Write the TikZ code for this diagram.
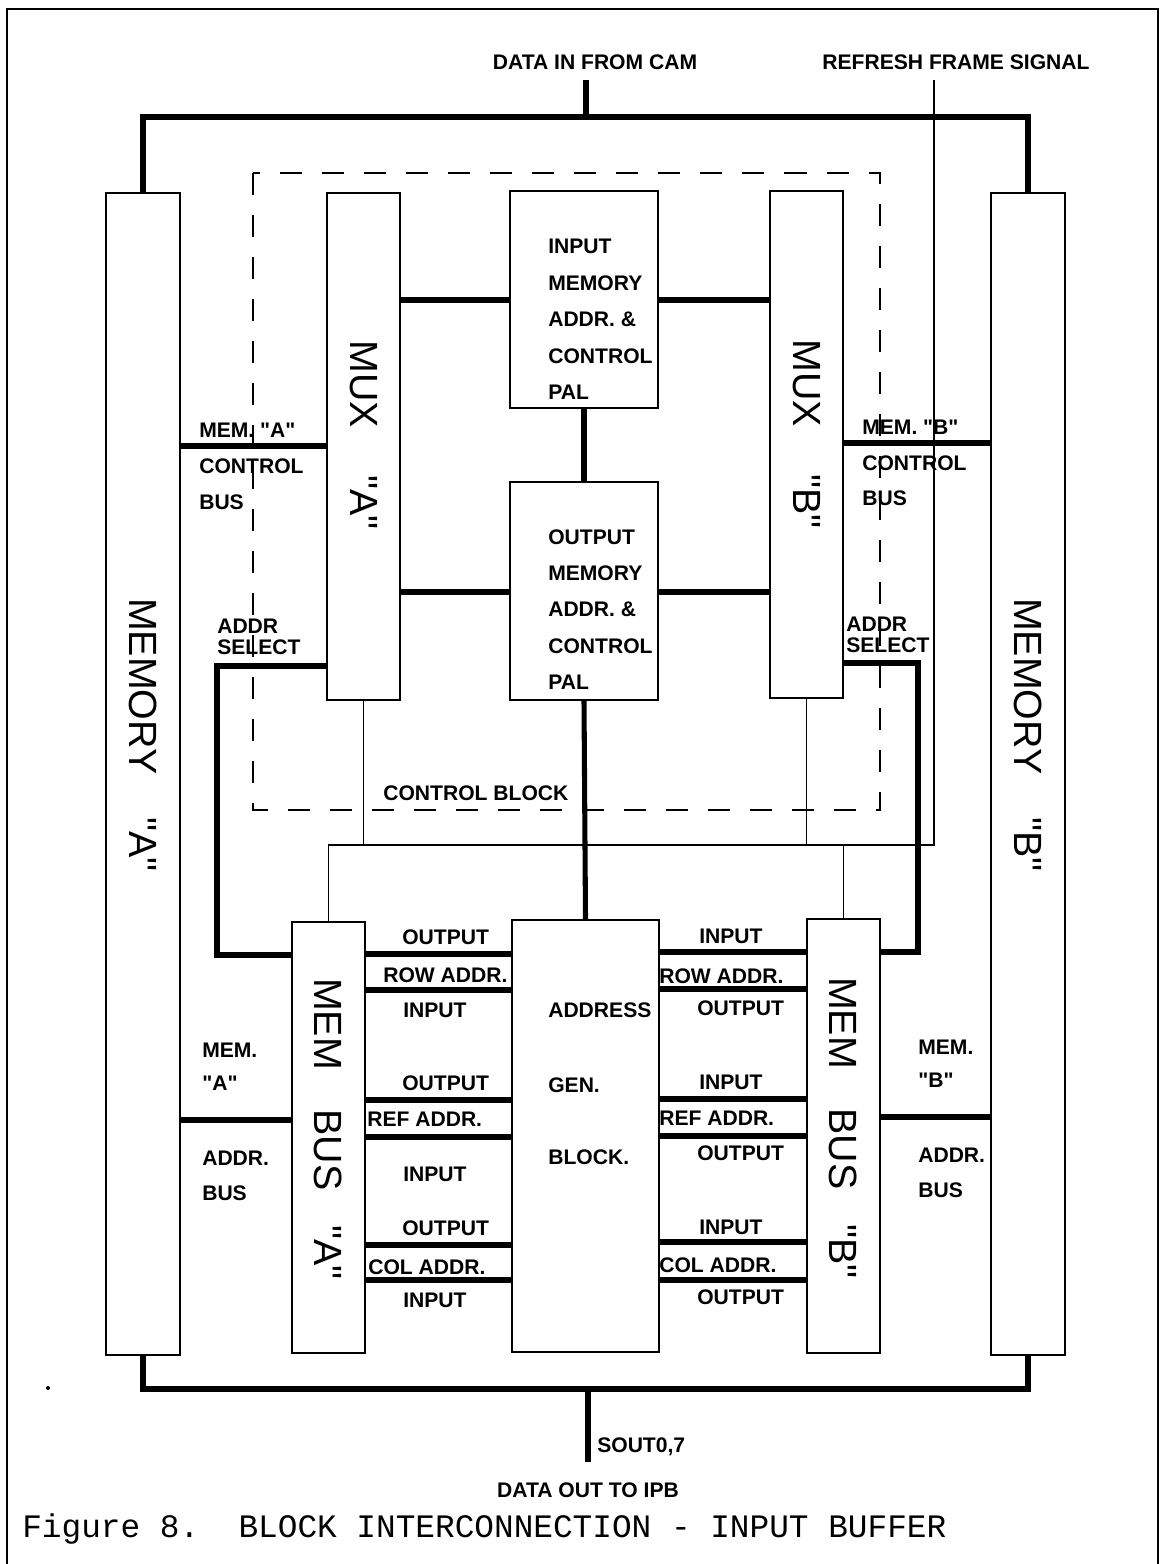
\documentclass[tikz,border=0pt]{standalone}
\usepackage{fontspec}
\usepackage{tikz}
\usetikzlibrary{positioning,calc}
\newfontfamily\plotfam{Liberation Sans}
\newfontfamily\capfam{Liberation Mono}
\newcommand\lblfont{\plotfam\bfseries\fontsize{15}{15}\selectfont}
\newcommand\memfont{\plotfam\fontsize{28}{28}\selectfont}
\newcommand\capfont{\capfam\fontsize{23.3}{24}\selectfont}
\tikzset{
  blk/.style={draw, line width=1.4pt, inner sep=0pt},
  bus/.style={line width=3.6pt},
  sig/.style={line width=1.2pt},
  ctlbox/.style={line width=1.4pt, dash pattern=on 0.55cm off 0.5cm},
  lbl/.style={font=\lblfont, inner sep=0pt, text height=10.7pt, text depth=0pt, anchor=west},
  biglbl/.style={font=\memfont, rotate=-90, inner sep=0pt},
}
\begin{document}
\begin{tikzpicture}[x=0.025cm, y=-0.025cm]
	\useasboundingbox (0,0) rectangle (1162,1564);
	% page frame
	\draw[line width=0.9pt] (7,1564) |- (1158,9) -- (1158,1564);
	\fill (48,1388) circle[radius=0.05cm];
	
	% blocks
	\node[blk, minimum width=1.85cm, minimum height=29.05cm] (memA) at (143,774) {};
	\node[blk, minimum width=1.85cm, minimum height=29.05cm] (memB) at (1028,774) {};
	\node[blk, minimum width=1.825cm, minimum height=12.675cm] (muxA) at (363.5,446.5) {};
	\node[blk, minimum width=1.825cm, minimum height=12.675cm] (muxB) at (806.5,444.5) {};
	\node[blk, minimum width=3.7cm, minimum height=5.425cm] (pal1) at (584,299.5) {};
	\node[blk, minimum width=3.7cm, minimum height=5.45cm] (pal2) at (584,591) {};
	\node[blk, minimum width=1.825cm, minimum height=10.775cm] (busA) at (328.5,1137.5) {};
	\node[blk, minimum width=1.825cm, minimum height=10.85cm] (busB) at (843.5,1136) {};
	\node[blk, minimum width=3.675cm, minimum height=10.8cm] (agen) at (585.5,1136) {};
	
	% control block outline
	\draw[ctlbox] (253,173) rectangle (880,810);
	
	% data in / data out buses
	\coordinate (dtin) at (586,80);
	\coordinate (tb) at (586,117);
	\coordinate (bb) at (588,1389);
	\coordinate (dout) at (588,1462);
	\draw[bus] (memA.north) |- (tb) -| (memB.north);
	\draw[bus] (dtin) -- (tb);
	\draw[bus] (memA.south) |- (bb) -| (memB.south);
	\draw[bus] (bb) -- (dout);
	
	% PAL links
	\draw[bus] (pal1.south) -- (pal2.north);
	\draw[bus] (pal2.south) -- (agen.north);
	\draw[bus] (muxA.east |- 0,300) -- (pal1.west |- 0,300);
	\draw[bus] (pal1.east |- 0,300) -- (muxB.west |- 0,300);
	\draw[bus] (muxA.east |- 0,592) -- (pal2.west |- 0,592);
	\draw[bus] (pal2.east |- 0,592) -- (muxB.west |- 0,592);
	
	% memory control buses
	\draw[bus] (memA.east |- 0,446) -- (muxA.west |- 0,446);
	\draw[bus] (muxB.east |- 0,443) -- (memB.west |- 0,443);
	
	% address select
	\coordinate (selA) at (217,666);
	\coordinate (selB) at (918,663);
	\draw[bus] (muxA.west |- selA) -- (selA) |- (busA.west |- 0,955);
	\draw[bus] (muxB.east |- selB) -- (selB) |- (busB.east |- 0,952);
	
	% memory address buses
	\draw[bus] (memA.east |- 0,1120) -- (busA.west |- 0,1120);
	\draw[bus] (busB.east |- 0,1117) -- (memB.west |- 0,1117);
	
	% row / ref / col address lines
	\foreach \y in {954,990,1100,1137,1245,1280}
		\draw[bus] (busA.east |- 0,\y) -- (agen.west |- 0,\y);
	\foreach \y in {952,989,1099,1136,1242,1280}
		\draw[bus] (agen.east |- 0,\y) -- (busB.west |- 0,\y);
	
	% refresh frame signal and mux select
	\coordinate (rfs) at (934,80);
	\coordinate (rj) at (busA.north |- 0,845);
	\draw[sig] (rfs) |- (rj) -- (busA.north);
	\draw[sig] (muxA.south) -- (muxA.south |- rj);
	\draw[sig] (muxB.south) -- (muxB.south |- rj);
	\draw[sig] (busB.north) -- (busB.north |- rj);
	
	% block names
	\node[biglbl] (memAt) at (143,735) {MEMORY\hspace{1.1em}"A"};
	\node[biglbl] (memBt) at (1028,735) {MEMORY\hspace{1.1em}"B"};
	\node[biglbl] (muxAt) at (363.5,435) {MUX\hspace{1.2em}"A"};
	\node[biglbl] (muxBt) at (806.5,434) {MUX\hspace{1.2em}"B"};
	\node[biglbl] (busAt) at (328.5,1129) {MEM\hspace{1em}BUS\hspace{0.9em}"A"};
	\node[biglbl] (busBt) at (843.5,1128) {MEM\hspace{1em}BUS\hspace{0.9em}"B"};
	
	\foreach \t [count=\i] in {INPUT,MEMORY,ADDR.\ \&,CONTROL,PAL}
		\node[lbl] (p1t\i) at (548,209.5+36.5*\i) {\t};
	\foreach \t [count=\i] in {OUTPUT,MEMORY,ADDR.\ \&,CONTROL,PAL}
		\node[lbl] (p2t\i) at (548,500.8+36.2*\i) {\t};
	\node[lbl] (ag1) at (548,1010) {ADDRESS};
	\node[lbl] (ag2) at (548,1085) {GEN.};
	\node[lbl] (ag3) at (548,1157) {BLOCK.};
	
	% bus labels
	\node[lbl] (mca1) at (199,430) {MEM. "A"};
	\node[lbl] (mca2) at (199,466) {CONTROL};
	\node[lbl] (mca3) at (199,502) {BUS};
	\node[lbl] (mcb1) at (862,427) {MEM. "B"};
	\node[lbl] (mcb2) at (862,463) {CONTROL};
	\node[lbl] (mcb3) at (862,498) {BUS};
	\node[lbl] (sla1) at (217,626) {ADDR};
	\node[lbl] (sla2) at (217,647) {SELECT};
	\node[lbl] (slb1) at (846,624) {ADDR};
	\node[lbl] (slb2) at (846,645) {SELECT};
	\node[lbl] (mab1) at (202,1050) {MEM.};
	\node[lbl] (mab2) at (202,1083) {"A"};
	\node[lbl] (mab3) at (202,1158) {ADDR.};
	\node[lbl] (mab4) at (202,1193) {BUS};
	\node[lbl] (mbb1) at (918,1047) {MEM.};
	\node[lbl] (mbb2) at (918,1080) {"B"};
	\node[lbl] (mbb3) at (918,1155) {ADDR.};
	\node[lbl] (mbb4) at (918,1190) {BUS};
	\node[lbl] (ctlt) at (383,793) {CONTROL BLOCK};
	
	\foreach \x/\y/\t [count=\i] in {402/937/OUTPUT, 383/975/ROW ADDR., 403/1010/INPUT,
		402/1083/OUTPUT, 367/1119/REF ADDR., 403/1174/INPUT,
		402/1228/OUTPUT, 368/1267/COL ADDR., 403/1300/INPUT}
		\node[lbl] (la\i) at (\x,\y) {\t};
	\foreach \x/\y/\t [count=\i] in {699/936/INPUT, 659/976/ROW ADDR., 697/1008/OUTPUT,
		699/1082/INPUT, 659/1118/REF ADDR., 697/1153/OUTPUT,
		699/1227/INPUT, 659/1265/COL ADDR., 697/1297/OUTPUT}
		\node[lbl] (lb\i) at (\x,\y) {\t};
	
	% signal names
	\node[lbl, anchor=center] (dint) at (595,62) {DATA IN FROM CAM};
	\node[lbl, anchor=center] (rfst) at (956,62) {REFRESH FRAME SIGNAL};
	\node[lbl] (sout) at (597,1445) {SOUT0,7};
	\node[lbl, anchor=center] (doutt) at (588,1490) {DATA OUT TO IPB};
	
	\node[font=\capfont, inner sep=0pt, anchor=base west] (cap) at (22,1537)
		{Figure 8.\ \ BLOCK INTERCONNECTION - INPUT BUFFER};
\end{tikzpicture}
\end{document}
